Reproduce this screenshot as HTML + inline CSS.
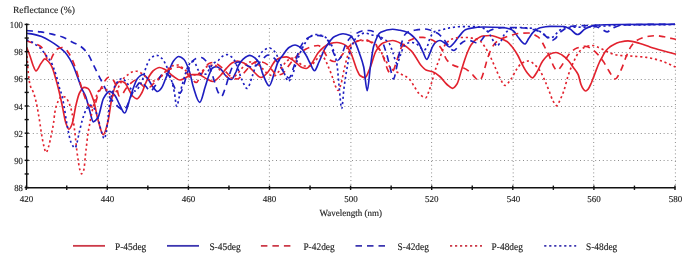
<!DOCTYPE html><html><head><meta charset="utf-8"><style>html,body{margin:0;padding:0;background:#fff;}svg{display:block;}</style></head><body><svg width="685" height="254" viewBox="0 0 685 254">
<rect width="685" height="254" fill="#fff"/>
<g stroke="#8c8c8c" stroke-width="1" stroke-dasharray="1 2.8" fill="none"><line x1="29" y1="24.5" x2="675.5" y2="24.5"/><line x1="29" y1="52.5" x2="675.5" y2="52.5"/><line x1="29" y1="79.5" x2="675.5" y2="79.5"/><line x1="29" y1="106.5" x2="675.5" y2="106.5"/><line x1="29" y1="133.5" x2="675.5" y2="133.5"/><line x1="29" y1="160.5" x2="675.5" y2="160.5"/><line x1="107.4" y1="28" x2="107.4" y2="186"/><line x1="188.4" y1="28" x2="188.4" y2="186"/><line x1="269.4" y1="28" x2="269.4" y2="186"/><line x1="350.9" y1="28" x2="350.9" y2="186"/><line x1="431.6" y1="28" x2="431.6" y2="186"/><line x1="513.2" y1="28" x2="513.2" y2="186"/><line x1="593.7" y1="28" x2="593.7" y2="186"/><line x1="675.4" y1="28" x2="675.4" y2="186"/></g>
<g fill="none" stroke-width="1.65" stroke-linejoin="round">
<path d="M26.7 47.4 C27.8 50.2 28.8 52.7 29.9 55.7 C30.9 58.6 32.0 62.8 33.0 65.2 C34.0 67.5 35.0 70.9 36.0 70.9 C37.6 70.9 39.3 65.8 40.9 63.6 C42.2 61.9 43.5 58.9 44.8 58.9 C46.1 58.9 47.5 60.6 48.8 62.0 C49.8 63.1 50.9 64.7 51.9 66.8 C53.2 69.4 54.4 74.2 55.7 78.5 C56.7 82.0 57.8 86.1 58.8 90.3 C59.8 94.5 60.9 99.3 61.9 104.0 C63.3 110.3 64.6 119.9 66.0 123.5 C67.0 126.2 68.0 129.2 69.0 129.2 C70.0 129.2 71.1 126.5 72.1 124.0 C73.4 120.8 74.7 110.2 76.0 105.0 C77.2 100.3 78.3 95.1 79.5 93.0 C81.1 90.2 82.6 87.4 84.2 87.4 C85.5 87.4 86.7 87.9 88.0 88.5 C90.0 89.5 91.9 95.6 93.9 101.6 C95.1 105.4 96.4 113.9 97.6 118.3 C99.5 125.1 101.4 134.6 103.3 134.6 C104.9 134.6 106.5 127.3 108.1 121.0 C109.2 116.5 110.4 105.3 111.5 100.0 C112.7 94.6 113.8 89.5 115.0 87.0 C116.0 84.9 117.0 83.1 118.0 82.5 C119.1 81.8 120.2 81.2 121.3 81.2 C122.5 81.2 123.8 82.1 125.0 83.0 C126.1 83.8 127.2 86.6 128.3 88.5 C129.7 90.9 131.1 94.7 132.5 96.0 C134.0 97.4 135.5 98.8 137.0 98.8 C138.7 98.8 140.3 95.4 142.0 92.5 C143.2 90.5 144.3 86.0 145.5 83.4 C146.7 80.8 147.8 78.4 149.0 76.5 C150.3 74.3 151.7 72.1 153.0 71.0 C155.1 69.3 157.3 67.5 159.4 67.5 C161.3 67.5 163.1 68.6 165.0 69.5 C167.5 70.7 170.0 74.0 172.5 75.7 C175.0 77.4 177.5 80.0 180.0 80.0 C182.0 80.0 184.0 78.4 186.0 77.5 C188.0 76.6 190.0 74.6 192.0 74.6 C194.1 74.6 196.3 74.6 198.4 74.6 C201.3 74.6 204.1 77.7 207.0 79.0 C209.0 79.9 211.0 81.5 213.0 81.5 C215.3 81.5 217.7 78.2 220.0 76.0 C222.2 73.9 224.4 70.4 226.6 68.1 C228.4 66.2 230.2 64.0 232.0 63.0 C233.8 62.0 235.6 61.0 237.4 61.0 C239.6 61.0 241.7 62.1 243.9 63.1 C246.1 64.1 248.2 66.1 250.4 68.1 C251.9 69.5 253.5 71.6 255.0 73.0 C257.0 74.8 259.0 77.5 261.0 77.5 C263.3 77.5 265.7 74.4 268.0 72.0 C270.5 69.4 273.0 62.5 275.5 60.5 C277.3 59.1 279.2 57.9 281.0 57.5 C282.8 57.1 284.7 56.8 286.5 56.8 C288.3 56.8 290.2 58.4 292.0 59.5 C293.7 60.5 295.3 62.4 297.0 63.7 C298.7 65.0 300.3 66.9 302.0 67.5 C303.4 68.0 304.8 68.5 306.2 68.5 C308.1 68.5 310.1 65.3 312.0 63.0 C314.0 60.6 316.0 55.6 318.0 53.1 C320.0 50.6 322.0 48.5 324.0 47.0 C325.9 45.6 327.9 44.1 329.8 43.6 C332.2 43.0 334.5 42.5 336.9 42.5 C338.6 42.5 340.3 43.0 342.0 43.5 C343.5 43.9 344.9 44.8 346.4 46.0 C347.6 47.0 348.8 48.8 350.0 51.0 C351.2 53.1 352.3 56.8 353.5 60.0 C354.7 63.2 355.8 67.4 357.0 70.0 C358.0 72.2 359.0 74.8 360.0 75.5 C361.7 76.7 363.3 77.6 365.0 77.6 C366.7 77.6 368.3 71.8 370.0 68.0 C372.0 63.5 374.0 54.4 376.0 51.1 C378.3 47.2 380.7 44.0 383.0 43.0 C386.2 41.6 389.4 40.5 392.6 40.5 C395.7 40.5 398.9 42.4 402.0 44.0 C405.2 45.6 408.3 47.9 411.5 51.1 C413.0 52.6 414.5 55.2 416.0 57.5 C417.6 60.0 419.3 63.4 420.9 65.3 C422.6 67.3 424.3 69.3 426.0 70.0 C428.2 71.0 430.5 70.9 432.7 71.8 C435.1 72.7 437.4 74.5 439.8 76.5 C442.2 78.5 444.6 82.5 447.0 84.5 C448.8 86.0 450.7 88.3 452.5 88.3 C454.0 88.3 455.5 86.2 457.0 84.0 C458.5 81.8 460.0 74.7 461.5 70.0 C462.7 66.4 463.8 62.4 465.0 59.0 C466.0 56.1 467.0 53.3 468.0 51.0 C469.0 48.7 470.0 46.5 471.0 45.0 C472.7 42.6 474.3 40.7 476.0 39.5 C478.3 37.9 480.7 36.3 483.0 36.0 C485.3 35.7 487.7 35.5 490.0 35.5 C492.7 35.5 495.3 36.7 498.0 37.5 C501.0 38.5 504.0 39.6 507.0 41.5 C509.0 42.8 511.0 45.4 513.0 48.0 C514.5 50.0 516.1 52.3 517.6 55.0 C519.1 57.6 520.5 61.3 522.0 64.0 C523.7 67.1 525.3 70.4 527.0 72.5 C528.8 74.7 530.6 77.8 532.4 77.8 C533.9 77.8 535.5 74.3 537.0 72.0 C538.9 69.1 540.8 63.6 542.7 61.0 C544.8 58.2 546.9 55.4 549.0 54.5 C551.3 53.4 553.7 52.5 556.0 52.5 C558.0 52.5 560.0 53.9 562.0 55.0 C564.2 56.3 566.5 58.5 568.7 61.0 C570.1 62.6 571.6 64.9 573.0 67.0 C574.7 69.5 576.5 70.9 578.2 74.7 C579.1 76.7 580.1 82.2 581.0 84.5 C581.8 86.6 582.7 88.4 583.5 89.3 C584.3 90.1 585.0 91.0 585.8 91.0 C586.5 91.0 587.3 90.1 588.0 89.3 C589.2 88.1 590.3 85.1 591.5 82.5 C592.8 79.5 594.2 75.4 595.5 72.0 C596.8 68.6 598.2 64.8 599.5 62.0 C600.3 60.3 601.2 59.0 602.0 57.5 C603.0 55.7 604.0 53.4 605.0 52.0 C606.0 50.6 607.0 49.4 608.0 48.5 C609.7 47.0 611.3 45.9 613.0 45.0 C615.3 43.7 617.7 42.5 620.0 42.0 C622.7 41.4 625.3 40.8 628.0 40.8 C632.0 40.8 636.0 42.4 640.0 43.5 C643.3 44.4 646.7 45.9 650.0 47.0 C654.0 48.3 658.0 49.4 662.0 50.5 C666.7 51.8 671.3 53.0 676.0 54.2" stroke="#e2222e"/>
<path d="M26.4 33.3 C28.5 33.6 30.7 33.7 32.8 34.1 C35.7 34.6 38.6 35.5 41.5 36.6 C44.4 37.7 47.4 39.4 50.3 41.1 C52.8 42.6 55.3 44.2 57.8 46.1 C60.2 47.9 62.6 49.7 65.0 52.3 C66.7 54.1 68.3 56.6 70.0 59.4 C71.0 61.1 72.1 63.2 73.1 65.5 C74.7 69.1 76.3 73.7 77.9 78.0 C79.1 81.2 80.3 85.2 81.5 88.0 C82.9 91.3 84.3 92.9 85.7 96.5 C87.0 99.8 88.2 105.8 89.5 110.0 C90.8 114.2 92.0 121.8 93.3 121.8 C94.9 121.8 96.4 119.7 98.0 117.5 C99.8 114.9 101.7 101.5 103.5 98.3 C105.5 94.8 107.5 91.3 109.5 91.3 C111.3 91.3 113.2 93.5 115.0 95.6 C116.5 97.3 118.0 101.8 119.5 104.5 C121.2 107.6 123.0 113.0 124.7 113.0 C126.4 113.0 128.2 103.6 129.9 98.5 C130.9 95.5 132.0 91.8 133.0 89.0 C134.5 85.0 136.0 80.2 137.5 78.5 C139.3 76.4 141.2 74.5 143.0 74.5 C144.7 74.5 146.3 77.1 148.0 79.0 C149.7 80.9 151.3 85.0 153.0 87.0 C154.5 88.8 156.0 91.5 157.5 91.5 C158.8 91.5 160.2 89.7 161.5 88.0 C162.8 86.3 164.2 82.1 165.5 79.0 C166.8 75.9 168.2 72.5 169.5 69.5 C170.8 66.5 172.2 62.7 173.5 61.0 C175.2 58.8 177.0 56.5 178.7 56.5 C180.5 56.5 182.2 57.9 184.0 59.5 C185.9 61.2 187.7 66.5 189.6 72.0 C190.8 75.5 192.0 82.9 193.2 86.6 C195.4 93.3 197.5 102.3 199.7 102.3 C201.6 102.3 203.4 92.1 205.3 86.6 C206.5 82.9 207.8 78.0 209.0 75.0 C210.2 72.2 211.3 68.7 212.5 68.0 C213.8 67.2 215.0 66.6 216.3 66.6 C217.9 66.6 219.6 68.3 221.2 69.7 C222.8 71.1 224.4 74.6 226.0 76.0 C227.7 77.5 229.5 79.5 231.2 79.5 C232.8 79.5 234.4 75.2 236.0 72.0 C236.8 70.3 237.7 67.1 238.5 65.5 C240.0 62.7 241.4 60.5 242.9 59.3 C245.2 57.4 247.5 55.3 249.8 55.3 C251.5 55.3 253.3 56.7 255.0 58.0 C256.5 59.1 258.0 61.1 259.5 63.9 C260.7 66.1 261.8 71.9 263.0 74.6 C265.1 79.4 267.1 85.8 269.2 85.8 C271.0 85.8 272.9 76.7 274.7 71.7 C275.8 68.7 276.9 64.1 278.0 62.0 C279.5 59.0 281.1 57.5 282.6 55.5 C284.7 52.7 286.9 48.8 289.0 47.5 C291.0 46.3 293.0 45.0 295.0 45.0 C297.0 45.0 299.0 46.5 301.0 48.0 C302.7 49.3 304.5 52.6 306.2 55.5 C307.5 57.6 308.7 60.7 310.0 63.0 C311.5 65.8 313.0 70.7 314.5 70.7 C316.0 70.7 317.5 65.1 319.0 62.0 C321.0 57.8 323.1 51.7 325.1 48.4 C328.3 43.2 331.4 38.1 334.6 36.5 C337.4 35.0 340.2 33.7 343.0 33.7 C345.3 33.7 347.7 34.5 350.0 35.5 C351.7 36.2 353.3 39.1 355.0 42.0 C356.5 44.6 358.0 49.2 359.5 53.5 C360.9 57.5 362.3 60.8 363.7 67.0 C364.9 72.1 366.0 90.7 367.2 90.7 C368.3 90.7 369.4 73.5 370.5 66.0 C371.5 58.9 372.6 49.8 373.6 46.4 C376.0 38.7 378.3 33.3 380.7 32.2 C384.7 30.4 388.6 29.3 392.6 29.3 C395.1 29.3 397.5 29.9 400.0 30.3 C402.6 30.8 405.2 31.4 407.8 32.5 C409.2 33.1 410.6 34.3 412.0 35.5 C413.3 36.6 414.7 38.0 416.0 39.5 C417.0 40.7 418.0 41.9 419.0 43.5 C420.3 45.7 421.7 49.3 423.0 52.0 C424.3 54.6 425.5 59.4 426.8 59.4 C427.9 59.4 428.9 55.4 430.0 53.0 C430.9 51.0 431.8 48.0 432.7 46.4 C433.8 44.5 434.9 42.7 436.0 42.0 C437.3 41.2 438.5 40.5 439.8 40.5 C441.2 40.5 442.6 41.7 444.0 42.5 C445.8 43.6 447.7 47.0 449.5 47.0 C451.0 47.0 452.5 44.6 454.0 43.0 C455.6 41.3 457.1 38.7 458.7 36.9 C460.9 34.3 463.2 30.8 465.4 29.8 C466.9 29.1 468.5 28.7 470.0 28.4 C474.5 27.6 479.1 27.0 483.6 27.0 C489.9 27.0 496.3 27.2 502.6 27.5 C505.1 27.6 507.5 28.2 510.0 29.0 C511.3 29.4 512.7 30.4 514.0 31.5 C515.3 32.6 516.7 35.4 518.0 37.0 C520.3 39.7 522.5 44.0 524.8 44.0 C526.2 44.0 527.6 39.9 529.0 38.0 C530.4 36.0 531.9 33.5 533.3 32.2 C535.6 30.2 537.9 28.4 540.2 27.8 C543.4 27.0 546.6 26.3 549.8 26.3 C554.5 26.3 559.3 26.4 564.0 26.5 C566.0 26.6 568.0 28.0 570.0 29.0 C572.5 30.3 575.1 34.5 577.6 34.5 C580.1 34.5 582.5 30.3 585.0 29.0 C588.5 27.2 591.9 25.3 595.4 25.1 C603.6 24.7 611.8 24.6 620.0 24.5 C638.3 24.4 656.7 24.4 675.0 24.3" stroke="#1e1ec0"/>
<path d="M26.4 40.5 C27.8 41.1 29.1 41.7 30.5 42.2 C32.3 42.9 34.0 43.3 35.8 44.0 C37.2 44.6 38.6 45.1 40.0 46.0 C40.9 46.6 41.7 47.3 42.6 48.5 C43.6 49.8 44.5 53.0 45.5 55.0 C46.5 57.0 47.5 60.5 48.5 60.5 C49.2 60.5 49.8 60.3 50.5 60.0 C51.2 59.7 51.8 57.3 52.5 56.0 C53.6 54.0 54.6 51.3 55.7 50.3 C56.8 49.3 57.9 48.7 59.0 48.3 C60.0 47.9 61.0 47.5 62.0 47.5 C63.0 47.5 64.0 48.0 65.0 48.5 C66.0 49.0 67.0 50.6 68.0 52.0 C69.2 53.6 70.3 55.6 71.5 58.0 C72.8 60.7 74.2 64.3 75.5 68.0 C76.7 71.3 77.8 75.3 79.0 79.0 C80.3 83.3 81.7 88.1 83.0 92.0 C84.0 94.9 85.0 97.8 86.0 100.0 C87.0 102.2 88.0 104.7 89.0 105.5 C90.0 106.3 91.0 107.0 92.0 107.0 C93.0 107.0 94.0 105.5 95.0 104.0 C96.1 102.3 97.2 96.3 98.3 93.7 C99.5 90.7 100.8 88.8 102.0 86.5 C103.2 84.3 104.3 81.4 105.5 80.0 C106.5 78.8 107.5 77.2 108.5 77.2 C109.5 77.2 110.5 77.6 111.5 78.0 C112.5 78.4 113.5 80.2 114.5 82.0 C115.3 83.5 116.2 86.4 117.0 89.0 C117.7 91.1 118.3 96.0 119.0 96.0 C120.0 96.0 121.0 95.6 122.0 95.0 C123.0 94.4 124.0 91.4 125.0 90.0 C126.7 87.6 128.3 85.4 130.0 84.0 C132.0 82.3 134.0 80.0 136.0 80.0 C137.3 80.0 138.7 82.0 140.0 83.0 C141.7 84.3 143.3 87.0 145.0 87.0 C146.7 87.0 148.3 87.0 150.0 87.0 C151.0 87.0 152.0 85.0 153.0 84.0 C155.3 81.7 157.7 79.2 160.0 77.0 C162.7 74.5 165.3 71.4 168.0 70.0 C170.0 69.0 172.0 68.2 174.0 67.8 C175.7 67.4 177.3 67.0 179.0 67.0 C180.7 67.0 182.3 68.7 184.0 70.0 C185.9 71.5 187.9 74.9 189.8 76.8 C192.0 79.0 194.1 82.5 196.3 82.5 C197.7 82.5 199.1 78.3 200.5 76.0 C202.0 73.5 203.5 70.2 205.0 68.1 C206.3 66.3 207.7 64.0 209.0 63.5 C210.3 63.0 211.7 62.5 213.0 62.5 C214.3 62.5 215.7 63.3 217.0 64.0 C218.7 64.9 220.5 66.6 222.2 68.1 C223.8 69.5 225.4 71.4 227.0 73.0 C228.3 74.3 229.7 76.1 231.0 76.8 C233.1 77.9 235.3 79.0 237.4 79.0 C239.3 79.0 241.1 75.9 243.0 74.0 C244.7 72.3 246.5 70.0 248.2 68.1 C249.5 66.7 250.7 64.9 252.0 64.0 C253.6 62.9 255.3 61.6 256.9 61.6 C258.6 61.6 260.3 61.8 262.0 62.0 C264.0 62.3 266.0 63.5 268.0 65.0 C269.3 66.0 270.7 68.5 272.0 70.0 C273.7 71.9 275.3 75.0 277.0 75.0 C278.7 75.0 280.3 74.6 282.0 74.0 C284.2 73.3 286.3 68.7 288.5 66.0 C290.3 63.7 292.2 61.1 294.0 59.0 C296.0 56.8 298.0 54.6 300.0 53.0 C302.0 51.4 304.0 50.0 306.0 49.0 C308.0 48.0 310.0 47.0 312.0 46.5 C314.0 46.0 316.0 45.5 318.0 45.5 C319.3 45.5 320.7 46.8 322.0 48.0 C323.3 49.2 324.7 53.1 326.0 55.0 C327.3 56.9 328.7 59.2 330.0 60.0 C331.3 60.8 332.7 61.5 334.0 61.5 C335.3 61.5 336.7 61.1 338.0 60.5 C339.3 59.9 340.7 56.8 342.0 55.0 C343.7 52.8 345.3 50.3 347.0 48.5 C348.7 46.7 350.3 45.1 352.0 44.0 C354.0 42.7 356.0 41.7 358.0 41.0 C360.1 40.3 362.1 39.3 364.2 39.3 C366.8 39.3 369.4 41.4 372.0 43.0 C374.9 44.8 377.8 46.9 380.7 51.1 C382.1 53.2 383.6 58.1 385.0 62.0 C385.9 64.5 386.9 68.3 387.8 70.0 C388.5 71.3 389.3 73.0 390.0 73.0 C391.0 73.0 392.0 72.0 393.0 71.0 C394.3 69.6 395.7 63.6 397.0 60.0 C398.7 55.4 400.3 48.4 402.0 46.4 C405.2 42.5 408.3 40.8 411.5 39.5 C413.7 38.6 415.8 37.6 418.0 37.5 C419.7 37.4 421.3 37.3 423.0 37.3 C424.7 37.3 426.3 38.0 428.0 38.5 C430.4 39.2 432.7 40.1 435.1 41.6 C437.1 42.8 439.0 45.2 441.0 48.0 C443.0 50.8 444.9 57.6 446.9 60.0 C448.6 62.1 450.3 63.5 452.0 64.5 C453.7 65.4 455.3 66.1 457.0 66.6 C459.2 67.2 461.4 67.3 463.6 68.0 C466.2 68.8 468.8 71.2 471.4 73.5 C472.8 74.7 474.1 76.7 475.5 78.0 C476.5 78.9 477.5 80.5 478.5 80.5 C479.5 80.5 480.5 79.3 481.5 78.0 C482.5 76.7 483.5 72.2 484.5 69.0 C485.7 65.3 486.8 60.2 488.0 57.0 C489.7 52.5 491.3 48.3 493.0 46.0 C495.0 43.2 497.0 41.2 499.0 40.0 C501.3 38.6 503.7 37.9 506.0 37.0 C508.0 36.3 510.0 35.6 512.0 35.0 C514.0 34.4 516.0 33.7 518.0 33.5 C521.5 33.2 524.9 33.0 528.4 33.0 C531.6 33.0 534.8 34.8 538.0 36.9 C540.7 38.7 543.4 44.6 546.1 49.5 C547.7 52.5 549.4 56.3 551.0 60.0 C552.0 62.2 553.0 65.4 554.0 67.0 C555.0 68.6 556.0 70.5 557.0 70.5 C558.0 70.5 559.0 69.1 560.0 68.0 C561.3 66.6 562.7 64.0 564.0 62.0 C565.9 59.1 567.9 55.3 569.8 53.4 C572.2 51.0 574.6 48.8 577.0 48.0 C579.8 47.1 582.7 46.3 585.5 46.3 C588.0 46.3 590.5 48.3 593.0 50.0 C596.4 52.3 599.8 56.7 603.2 61.3 C605.1 63.9 607.1 68.1 609.0 71.0 C611.0 74.0 613.0 79.0 615.0 79.0 C617.0 79.0 619.0 73.8 621.0 70.0 C622.7 66.8 624.3 60.9 626.0 57.0 C627.7 53.1 629.3 48.9 631.0 46.5 C632.7 44.1 634.3 42.2 636.0 41.0 C638.0 39.6 640.0 38.7 642.0 38.0 C644.3 37.2 646.7 36.5 649.0 36.2 C651.3 35.9 653.7 35.7 656.0 35.7 C658.7 35.7 661.3 36.4 664.0 36.8 C668.0 37.5 672.0 38.6 676.0 39.5" stroke="#e2222e" stroke-dasharray="6.5 5"/>
<path d="M26.4 30.5 C31.1 31.0 35.9 31.3 40.6 31.9 C44.4 32.4 48.2 33.2 52.0 34.1 C55.5 34.9 59.0 35.8 62.5 37.1 C66.0 38.4 69.5 40.6 73.0 42.4 C75.4 43.6 77.9 44.5 80.3 46.1 C82.8 47.8 85.4 50.4 87.9 53.9 C89.9 56.6 91.8 61.8 93.8 65.7 C95.8 69.6 97.7 73.7 99.7 77.6 C101.4 80.9 103.0 84.1 104.7 87.4 C106.3 90.6 108.0 94.8 109.6 97.2 C111.4 99.9 113.2 101.6 115.0 103.5 C116.3 104.9 117.7 106.5 119.0 107.5 C120.3 108.5 121.7 110.0 123.0 110.0 C124.3 110.0 125.7 107.9 127.0 106.0 C128.3 104.1 129.7 98.8 131.0 96.0 C132.7 92.5 134.3 89.1 136.0 87.0 C137.7 84.9 139.3 82.0 141.0 82.0 C142.5 82.0 144.0 84.6 145.5 86.0 C147.2 87.6 148.8 91.0 150.5 91.0 C152.0 91.0 153.5 88.1 155.0 86.0 C156.5 83.9 158.0 80.1 159.5 78.0 C161.0 75.9 162.5 73.0 164.0 73.0 C165.3 73.0 166.7 73.7 168.0 74.5 C169.3 75.3 170.7 79.4 172.0 82.0 C173.3 84.6 174.7 88.5 176.0 90.0 C177.3 91.5 178.7 93.0 180.0 93.0 C181.3 93.0 182.7 87.5 184.0 84.0 C185.3 80.5 186.7 74.7 188.0 71.0 C189.2 67.8 190.3 64.0 191.5 62.5 C193.0 60.5 194.5 59.0 196.0 58.5 C197.8 57.9 199.5 57.5 201.3 57.5 C202.9 57.5 204.4 59.3 206.0 61.0 C207.2 62.2 208.3 64.5 209.5 67.0 C211.0 70.2 212.5 75.6 214.0 80.0 C215.3 83.9 216.7 89.7 218.0 92.0 C219.2 94.0 220.3 96.3 221.5 96.3 C222.7 96.3 223.8 91.9 225.0 89.0 C226.5 85.3 227.9 78.6 229.4 74.6 C230.6 71.3 231.8 67.5 233.0 66.0 C234.7 63.9 236.3 62.0 238.0 62.0 C239.7 62.0 241.3 62.5 243.0 63.0 C244.7 63.5 246.3 65.3 248.0 66.0 C249.7 66.7 251.3 67.5 253.0 67.5 C254.7 67.5 256.3 65.4 258.0 64.0 C259.3 62.9 260.7 61.2 262.0 60.0 C264.0 58.2 266.0 55.0 268.0 55.0 C270.0 55.0 272.0 56.5 274.0 58.0 C276.0 59.5 278.0 63.1 280.0 66.0 C281.7 68.4 283.3 72.0 285.0 74.0 C286.3 75.6 287.7 78.0 289.0 78.0 C290.8 78.0 292.6 69.8 294.4 65.0 C296.3 60.0 298.1 51.7 300.0 48.0 C302.1 43.9 304.1 40.2 306.2 38.9 C309.4 37.0 312.5 35.4 315.7 35.4 C317.8 35.4 319.9 35.6 322.0 36.0 C323.8 36.3 325.7 38.0 327.5 40.0 C328.7 41.3 329.8 44.5 331.0 47.0 C332.2 49.5 333.3 52.6 334.5 55.0 C335.5 57.0 336.5 60.5 337.5 60.5 C338.7 60.5 339.8 58.7 341.0 57.0 C342.3 55.1 343.7 48.7 345.0 46.0 C346.7 42.6 348.3 39.7 350.0 38.0 C351.6 36.4 353.1 35.4 354.7 34.5 C357.1 33.1 359.6 31.3 362.0 31.0 C364.3 30.7 366.7 30.5 369.0 30.5 C371.3 30.5 373.7 31.7 376.0 33.0 C377.7 33.9 379.3 36.3 381.0 39.0 C382.7 41.7 384.3 46.8 386.0 52.0 C387.3 56.1 388.7 62.2 390.0 67.0 C391.2 71.2 392.3 79.0 393.5 79.0 C394.5 79.0 395.5 72.3 396.5 68.0 C397.3 64.4 398.2 59.0 399.0 55.0 C400.0 50.3 400.9 45.0 401.9 42.0 C403.1 38.4 404.2 35.2 405.4 34.0 C406.9 32.4 408.5 31.4 410.0 31.0 C412.0 30.5 414.0 30.3 416.0 30.0 C418.7 29.6 421.3 29.0 424.0 29.0 C426.0 29.0 428.0 29.5 430.0 30.0 C431.3 30.3 432.7 30.9 434.0 31.5 C435.3 32.1 436.7 32.6 438.0 33.5 C439.7 34.6 441.3 36.6 443.0 38.5 C444.7 40.4 446.3 42.8 448.0 45.0 C449.2 46.5 450.3 48.8 451.5 49.5 C452.3 50.0 453.2 50.5 454.0 50.5 C455.0 50.5 456.0 49.0 457.0 48.0 C458.3 46.7 459.7 44.6 461.0 43.5 C462.3 42.4 463.7 41.3 465.0 41.0 C466.3 40.7 467.7 40.5 469.0 40.5 C470.3 40.5 471.7 41.1 473.0 41.5 C474.0 41.8 475.0 42.6 476.0 42.8 C476.8 43.0 477.7 43.2 478.5 43.2 C479.7 43.2 480.8 40.9 482.0 39.5 C483.3 37.9 484.7 35.4 486.0 34.0 C487.3 32.6 488.7 31.2 490.0 30.5 C492.0 29.5 494.0 28.8 496.0 28.5 C499.0 28.0 502.0 27.5 505.0 27.5 C508.3 27.5 511.7 27.5 515.0 27.5 C518.3 27.5 521.7 27.7 525.0 28.0 C527.7 28.2 530.3 28.9 533.0 29.5 C534.7 29.9 536.3 30.3 538.0 31.0 C539.7 31.7 541.3 32.9 543.0 34.0 C544.7 35.1 546.3 36.8 548.0 38.0 C549.3 38.9 550.7 40.5 552.0 40.5 C553.2 40.5 554.3 39.5 555.5 38.5 C556.7 37.5 557.8 34.7 559.0 33.5 C560.7 31.8 562.3 30.5 564.0 29.5 C566.0 28.3 568.0 26.7 570.0 26.5 C576.7 25.8 583.3 25.5 590.0 25.5 C593.3 25.5 596.7 26.8 600.0 28.0 C602.3 28.8 604.7 31.8 607.0 31.8 C609.0 31.8 611.0 28.9 613.0 28.0 C616.0 26.7 619.0 25.2 622.0 25.0 C628.0 24.7 634.0 24.6 640.0 24.5 C651.7 24.4 663.3 24.4 675.0 24.3" stroke="#1e1ec0" stroke-dasharray="6.5 5"/>
<path d="M26.5 51.0 C26.8 54.0 27.0 56.8 27.3 60.0 C27.6 64.0 28.0 69.9 28.3 73.0 C28.9 78.5 29.5 83.1 30.1 85.2 C31.1 88.8 32.2 89.3 33.2 92.0 C34.1 94.3 34.9 97.0 35.8 100.5 C36.6 103.8 37.5 108.6 38.3 113.3 C38.8 116.3 39.4 119.6 39.9 123.0 C40.4 126.2 40.9 130.3 41.4 133.3 C42.3 138.4 43.1 143.4 44.0 146.6 C44.7 149.1 45.3 152.6 46.0 152.6 C46.9 152.6 47.7 149.2 48.6 146.6 C49.6 143.6 50.6 138.2 51.6 133.3 C52.3 129.9 53.0 126.8 53.7 122.0 C54.0 119.7 54.4 115.1 54.7 113.3 C55.7 107.6 56.8 104.2 57.8 102.0 C59.0 99.4 60.3 96.5 61.5 96.5 C62.7 96.5 63.8 96.7 65.0 97.0 C66.3 97.3 67.7 100.2 69.0 103.0 C70.0 105.2 71.1 108.6 72.1 113.3 C72.8 116.5 73.5 121.9 74.2 127.1 C74.6 130.3 75.1 134.1 75.5 138.0 C75.9 141.9 76.4 147.0 76.8 150.5 C77.3 154.3 77.7 157.4 78.2 160.4 C78.7 163.8 79.3 167.9 79.8 169.6 C80.4 171.6 81.1 173.8 81.7 173.8 C82.4 173.8 83.2 172.0 83.9 169.6 C84.4 167.9 84.9 159.7 85.4 155.2 C85.8 151.6 86.2 148.5 86.6 145.0 C87.0 141.8 87.3 137.9 87.7 135.3 C88.3 131.1 88.9 128.3 89.5 125.0 C90.3 120.4 91.2 115.7 92.0 112.0 C93.3 106.1 94.7 100.5 96.0 97.0 C97.3 93.5 98.7 89.6 100.0 89.0 C101.3 88.4 102.7 88.0 104.0 88.0 C105.3 88.0 106.7 90.7 108.0 92.0 C109.3 93.3 110.7 96.0 112.0 96.0 C113.3 96.0 114.7 93.8 116.0 92.0 C117.3 90.2 118.7 86.3 120.0 84.0 C121.3 81.7 122.7 79.4 124.0 78.0 C125.5 76.4 127.1 75.3 128.6 74.2 C129.7 73.4 130.9 72.3 132.0 72.0 C133.6 71.6 135.1 71.2 136.7 71.2 C138.1 71.2 139.6 72.2 141.0 73.0 C142.3 73.7 143.5 75.0 144.8 76.0 C146.5 77.4 148.3 79.5 150.0 80.0 C151.7 80.5 153.3 81.0 155.0 81.0 C156.7 81.0 158.3 79.3 160.0 78.0 C162.0 76.4 164.0 72.9 166.0 71.0 C168.0 69.1 170.0 66.6 172.0 66.0 C174.0 65.4 176.0 65.0 178.0 65.0 C180.0 65.0 182.0 67.5 184.0 69.0 C186.0 70.5 188.0 73.4 190.0 74.0 C192.0 74.6 194.0 75.0 196.0 75.0 C198.0 75.0 200.0 72.5 202.0 71.0 C204.0 69.5 206.0 66.6 208.0 66.0 C210.0 65.4 212.0 65.0 214.0 65.0 C216.0 65.0 218.0 68.2 220.0 70.0 C222.0 71.8 224.0 75.0 226.0 76.0 C228.0 77.0 230.0 78.0 232.0 78.0 C234.0 78.0 236.0 74.9 238.0 73.0 C240.0 71.1 242.0 67.7 244.0 66.0 C246.0 64.3 248.0 62.0 250.0 62.0 C252.0 62.0 254.0 62.4 256.0 63.0 C258.0 63.6 260.0 66.2 262.0 68.0 C264.0 69.8 266.0 73.0 268.0 74.0 C270.0 75.0 272.0 76.0 274.0 76.0 C276.0 76.0 278.0 72.3 280.0 70.0 C282.0 67.7 284.0 63.8 286.0 62.0 C288.0 60.2 290.0 58.0 292.0 58.0 C294.0 58.0 296.0 60.7 298.0 62.0 C300.0 63.3 302.0 66.0 304.0 66.0 C306.0 66.0 308.0 66.0 310.0 66.0 C312.0 66.0 314.0 62.0 316.0 60.0 C317.3 58.7 318.7 56.0 320.0 56.0 C321.3 56.0 322.7 56.9 324.0 58.0 C325.3 59.1 326.7 63.0 328.0 66.0 C329.3 69.0 330.7 72.3 332.0 76.0 C333.0 78.7 334.0 82.7 335.0 85.0 C336.0 87.3 337.0 90.5 338.0 90.5 C339.0 90.5 340.0 87.0 341.0 84.0 C342.0 81.0 343.0 74.3 344.0 70.0 C345.0 65.7 346.0 61.3 347.0 58.0 C348.3 53.6 349.7 49.3 351.0 47.0 C352.7 44.2 354.3 41.2 356.0 41.0 C358.7 40.7 361.3 40.5 364.0 40.5 C367.2 40.5 370.4 41.5 373.6 42.8 C375.7 43.7 377.9 46.9 380.0 50.0 C381.8 52.6 383.7 57.8 385.5 60.6 C387.9 64.2 390.2 67.7 392.6 69.5 C395.1 71.4 397.5 72.1 400.0 73.5 C403.0 75.2 406.1 76.2 409.1 78.9 C410.7 80.3 412.4 83.6 414.0 86.0 C415.5 88.3 417.1 91.6 418.6 93.1 C421.0 95.4 423.3 97.8 425.7 97.8 C426.8 97.8 427.9 93.8 429.0 91.0 C430.2 87.9 431.5 83.1 432.7 79.0 C433.8 75.4 434.9 71.2 436.0 68.0 C437.3 64.3 438.5 61.3 439.8 58.0 C441.5 53.5 443.3 47.3 445.0 45.0 C447.3 41.9 449.7 39.7 452.0 39.0 C454.7 38.2 457.3 37.5 460.0 37.5 C462.3 37.5 464.7 37.5 467.0 37.5 C469.3 37.5 471.7 38.0 474.0 38.5 C476.0 38.9 478.0 39.7 480.0 41.0 C481.7 42.0 483.3 44.6 485.0 47.0 C486.7 49.4 488.3 52.7 490.0 56.0 C491.7 59.3 493.3 63.3 495.0 67.0 C496.7 70.7 498.3 75.0 500.0 78.0 C501.7 81.0 503.3 85.5 505.0 85.5 C507.0 85.5 509.0 81.7 511.0 79.0 C512.9 76.5 514.8 71.8 516.7 69.2 C518.5 66.7 520.2 63.9 522.0 63.0 C524.2 61.9 526.4 61.0 528.6 61.0 C530.7 61.0 532.9 63.2 535.0 65.0 C536.8 66.5 538.6 68.7 540.4 71.5 C541.9 73.8 543.5 77.6 545.0 81.0 C546.6 84.6 548.2 88.8 549.8 92.8 C550.9 95.5 551.9 99.2 553.0 101.0 C554.3 103.2 555.6 105.8 556.9 105.8 C557.9 105.8 559.0 102.2 560.0 100.0 C561.3 97.2 562.7 94.3 564.0 90.5 C565.3 86.7 566.7 80.0 568.0 76.0 C569.8 70.5 571.7 65.9 573.5 62.0 C575.3 58.1 577.2 54.1 579.0 52.0 C581.0 49.7 583.0 47.7 585.0 47.0 C587.3 46.2 589.7 45.5 592.0 45.5 C594.7 45.5 597.3 47.0 600.0 48.0 C603.3 49.3 606.7 51.8 610.0 53.0 C613.0 54.0 616.0 55.1 619.0 55.4 C622.7 55.7 626.3 55.8 630.0 56.0 C635.5 56.4 641.0 56.7 646.5 57.4 C651.0 58.0 655.5 59.2 660.0 60.5 C665.3 62.1 670.7 65.0 676.0 67.2" stroke="#e2222e" stroke-dasharray="2.2 2.8"/>
<path d="M26.5 39.8 C27.7 40.4 28.9 41.0 30.1 41.5 C31.0 41.8 31.9 42.0 32.8 42.4 C34.0 42.9 35.1 44.2 36.3 45.1 C37.3 45.8 38.3 46.3 39.3 47.2 C40.7 48.4 42.0 50.2 43.4 51.8 C44.6 53.2 45.8 54.9 47.0 56.4 C48.2 57.9 49.4 59.1 50.6 61.1 C51.6 62.8 52.7 65.6 53.7 68.3 C54.7 71.0 55.8 74.0 56.8 77.5 C57.7 80.5 58.6 84.9 59.5 88.0 C60.3 90.7 61.1 92.3 61.9 95.4 C62.6 98.1 63.3 102.1 64.0 106.0 C65.0 111.5 66.0 119.4 67.0 124.6 C68.4 131.7 69.7 139.6 71.1 142.5 C72.4 145.3 73.7 148.0 75.0 148.0 C76.4 148.0 77.9 137.8 79.3 132.2 C80.3 128.3 81.3 123.3 82.3 120.0 C83.5 116.0 84.8 112.1 86.0 110.0 C87.3 107.7 88.7 105.0 90.0 105.0 C91.3 105.0 92.7 106.5 94.0 108.0 C95.3 109.5 96.7 113.9 98.0 118.0 C99.2 121.6 100.3 128.5 101.5 132.0 C102.4 134.8 103.4 138.7 104.3 138.7 C105.4 138.7 106.5 129.7 107.6 122.5 C108.3 117.9 109.0 106.9 109.7 103.0 C110.4 98.9 111.2 96.6 111.9 94.3 C113.3 90.0 114.6 85.9 116.0 84.0 C118.0 81.2 120.0 78.5 122.0 78.5 C123.7 78.5 125.3 81.1 127.0 83.0 C128.3 84.5 129.7 88.0 131.0 89.0 C132.3 90.0 133.7 91.0 135.0 91.0 C136.3 91.0 137.7 88.8 139.0 87.0 C140.1 85.6 141.1 83.2 142.2 80.5 C143.6 77.0 145.0 69.7 146.4 66.2 C147.6 63.2 148.8 60.1 150.0 59.0 C152.3 56.9 154.5 55.3 156.8 55.3 C158.5 55.3 160.3 56.9 162.0 58.5 C163.2 59.6 164.3 61.8 165.5 64.0 C166.7 66.4 168.0 69.5 169.2 73.0 C170.3 76.1 171.4 79.7 172.5 84.0 C173.2 86.6 173.8 89.5 174.5 93.0 C175.2 96.7 175.9 106.3 176.6 106.3 C177.6 106.3 178.5 99.7 179.5 96.0 C180.5 92.2 181.5 87.1 182.5 83.6 C184.5 76.6 186.4 69.5 188.4 65.9 C189.6 63.7 190.8 61.0 192.0 61.0 C193.2 61.0 194.3 62.5 195.5 64.0 C196.3 65.1 197.2 68.4 198.0 69.7 C199.3 71.8 200.7 74.5 202.0 74.5 C203.3 74.5 204.7 74.3 206.0 74.0 C207.3 73.7 208.7 69.8 210.0 68.0 C211.3 66.2 212.7 64.1 214.0 63.0 C215.5 61.8 216.9 61.4 218.4 60.3 C219.6 59.3 220.9 57.2 222.1 56.5 C223.7 55.6 225.3 54.6 226.9 54.6 C228.5 54.6 230.0 55.8 231.6 57.0 C232.5 57.7 233.5 58.9 234.4 60.3 C235.4 61.8 236.3 64.5 237.3 66.9 C238.9 70.8 240.4 76.7 242.0 80.0 C243.7 83.5 245.3 88.3 247.0 88.3 C248.9 88.3 250.9 79.9 252.8 74.6 C254.2 70.7 255.6 64.3 257.0 61.0 C258.7 57.1 260.3 53.5 262.0 52.0 C264.4 49.9 266.8 48.0 269.2 48.0 C271.1 48.0 273.1 49.9 275.0 52.0 C276.1 53.1 277.1 55.9 278.2 58.2 C279.8 61.6 281.4 66.4 283.0 70.0 C284.8 74.1 286.7 81.3 288.5 81.3 C289.7 81.3 290.8 78.3 292.0 76.0 C293.4 73.2 294.8 67.1 296.2 63.3 C298.7 56.5 301.3 49.9 303.8 45.4 C305.5 42.3 307.3 39.1 309.0 37.7 C311.0 36.1 313.0 34.5 315.0 34.5 C317.3 34.5 319.7 34.9 322.0 35.5 C324.7 36.1 327.3 38.5 330.0 42.0 C331.3 43.7 332.7 47.8 334.0 52.0 C335.0 55.2 336.0 58.6 337.0 64.7 C337.7 68.8 338.3 78.7 339.0 85.0 C339.9 93.5 340.8 108.5 341.7 108.5 C342.5 108.5 343.2 93.8 344.0 88.0 C345.2 78.9 346.4 71.4 347.6 64.7 C348.7 58.4 349.9 51.2 351.0 48.0 C353.0 42.4 355.0 38.6 357.0 37.0 C359.7 34.8 362.3 33.0 365.0 33.0 C367.3 33.0 369.7 34.5 372.0 35.0 C374.0 35.4 376.0 35.5 378.0 36.0 C380.0 36.5 382.0 37.8 384.0 39.0 C385.7 40.0 387.3 40.9 389.0 43.0 C390.3 44.6 391.7 49.6 393.0 53.0 C394.3 56.4 395.7 63.5 397.0 63.5 C398.2 63.5 399.3 57.9 400.5 55.0 C401.7 52.1 402.8 47.4 404.0 46.0 C405.3 44.4 406.7 43.3 408.0 43.0 C409.3 42.7 410.7 42.5 412.0 42.5 C413.3 42.5 414.7 43.0 416.0 43.5 C417.3 44.0 418.7 45.9 420.0 47.0 C421.3 48.1 422.7 50.0 424.0 50.0 C425.0 50.0 426.0 48.5 427.0 47.0 C428.0 45.5 429.0 40.0 430.0 38.0 C431.3 35.3 432.7 32.7 434.0 32.0 C436.0 31.0 438.0 30.8 440.0 30.3 C443.2 29.5 446.3 28.4 449.5 27.9 C452.7 27.4 455.8 26.8 459.0 26.7 C462.7 26.6 466.3 26.5 470.0 26.5 C473.3 26.5 476.7 26.7 480.0 27.0 C482.0 27.2 484.0 28.5 486.0 30.0 C487.3 31.0 488.7 33.1 490.0 35.0 C491.3 36.9 492.7 40.0 494.0 42.0 C495.0 43.5 496.0 46.0 497.0 46.0 C498.2 46.0 499.3 43.7 500.5 42.0 C501.7 40.3 502.8 36.7 504.0 35.0 C505.0 33.5 506.0 32.3 507.0 31.5 C508.7 30.1 510.3 28.9 512.0 28.5 C514.7 27.9 517.3 27.5 520.0 27.5 C522.0 27.5 524.0 27.7 526.0 27.8 C528.5 28.0 531.0 28.1 533.5 28.5 C535.0 28.7 536.5 29.7 538.0 30.5 C539.7 31.3 541.3 32.4 543.0 33.5 C544.3 34.4 545.7 35.7 547.0 36.5 C548.0 37.1 549.0 38.0 550.0 38.0 C551.0 38.0 552.0 37.5 553.0 37.0 C554.0 36.5 555.0 35.0 556.0 34.0 C557.3 32.7 558.7 30.8 560.0 30.0 C562.0 28.8 564.0 27.6 566.0 27.5 C574.0 27.1 582.0 27.3 590.0 27.0 C595.0 26.8 600.0 26.3 605.0 26.0 C611.7 25.6 618.3 25.1 625.0 25.0 C633.3 24.9 641.7 24.9 650.0 24.8 C658.3 24.7 666.7 24.6 675.0 24.5" stroke="#1e1ec0" stroke-dasharray="2.2 2.8"/>
</g>
<g stroke="#111" stroke-width="1.4"><line x1="26.7" y1="23.6" x2="26.7" y2="188.3"/><line x1="26" y1="187.75" x2="675.4" y2="187.75"/><line x1="24.6" y1="187.55" x2="28.8" y2="187.55"/><line x1="24.6" y1="173.96" x2="28.8" y2="173.96"/><line x1="24.6" y1="160.37" x2="28.8" y2="160.37"/><line x1="24.6" y1="146.78" x2="28.8" y2="146.78"/><line x1="24.6" y1="133.18" x2="28.8" y2="133.18"/><line x1="24.6" y1="119.59" x2="28.8" y2="119.59"/><line x1="24.6" y1="106.00" x2="28.8" y2="106.00"/><line x1="24.6" y1="92.41" x2="28.8" y2="92.41"/><line x1="24.6" y1="78.82" x2="28.8" y2="78.82"/><line x1="24.6" y1="65.23" x2="28.8" y2="65.23"/><line x1="24.6" y1="51.63" x2="28.8" y2="51.63"/><line x1="24.6" y1="38.04" x2="28.8" y2="38.04"/><line x1="24.6" y1="24.45" x2="28.8" y2="24.45"/><line x1="26.20" y1="185.6" x2="26.20" y2="189.9"/><line x1="66.75" y1="185.6" x2="66.75" y2="189.9"/><line x1="107.30" y1="185.6" x2="107.30" y2="189.9"/><line x1="147.85" y1="185.6" x2="147.85" y2="189.9"/><line x1="188.40" y1="185.6" x2="188.40" y2="189.9"/><line x1="228.95" y1="185.6" x2="228.95" y2="189.9"/><line x1="269.50" y1="185.6" x2="269.50" y2="189.9"/><line x1="310.05" y1="185.6" x2="310.05" y2="189.9"/><line x1="350.60" y1="185.6" x2="350.60" y2="189.9"/><line x1="391.15" y1="185.6" x2="391.15" y2="189.9"/><line x1="431.70" y1="185.6" x2="431.70" y2="189.9"/><line x1="472.25" y1="185.6" x2="472.25" y2="189.9"/><line x1="512.80" y1="185.6" x2="512.80" y2="189.9"/><line x1="553.35" y1="185.6" x2="553.35" y2="189.9"/><line x1="593.90" y1="185.6" x2="593.90" y2="189.9"/><line x1="634.45" y1="185.6" x2="634.45" y2="189.9"/><line x1="675.00" y1="185.6" x2="675.00" y2="189.9"/></g>
<line x1="73.0" y1="245.85" x2="105.0" y2="245.85" stroke="#cc3a48" stroke-width="1.8"/>
<line x1="167.0" y1="245.85" x2="199.0" y2="245.85" stroke="#3c36b0" stroke-width="1.8"/>
<line x1="260.9" y1="245.85" x2="292.9" y2="245.85" stroke="#cc3a48" stroke-width="1.8" stroke-dasharray="6.5 5"/>
<line x1="355.5" y1="245.85" x2="387.5" y2="245.85" stroke="#3c36b0" stroke-width="1.8" stroke-dasharray="6.5 5"/>
<line x1="450.0" y1="245.85" x2="482.0" y2="245.85" stroke="#cc3a48" stroke-width="1.8" stroke-dasharray="2.2 2.8"/>
<line x1="544.2" y1="245.85" x2="576.2" y2="245.85" stroke="#3c36b0" stroke-width="1.8" stroke-dasharray="2.2 2.8"/>
<g style="will-change:transform;text-rendering:geometricPrecision" font-family="&quot;Liberation Serif&quot;, serif" fill="#262626" stroke="#262626" stroke-width="0.6"><text transform="translate(22.90 28.00) scale(0.2500 0.2650)" font-size="34.80" text-anchor="end">100</text><text transform="translate(22.90 55.18) scale(0.2500 0.2650)" font-size="34.80" text-anchor="end">98</text><text transform="translate(22.90 82.37) scale(0.2500 0.2650)" font-size="34.80" text-anchor="end">96</text><text transform="translate(22.90 109.55) scale(0.2500 0.2650)" font-size="34.80" text-anchor="end">94</text><text transform="translate(22.90 136.73) scale(0.2500 0.2650)" font-size="34.80" text-anchor="end">92</text><text transform="translate(22.90 163.92) scale(0.2500 0.2650)" font-size="34.80" text-anchor="end">90</text><text transform="translate(22.90 191.10) scale(0.2500 0.2650)" font-size="34.80" text-anchor="end">88</text><text transform="translate(26.60 201.60) scale(0.2500 0.2500)" font-size="36.00" text-anchor="middle">420</text><text transform="translate(107.60 201.60) scale(0.2500 0.2500)" font-size="36.00" text-anchor="middle">440</text><text transform="translate(188.60 201.60) scale(0.2500 0.2500)" font-size="36.00" text-anchor="middle">460</text><text transform="translate(269.60 201.60) scale(0.2500 0.2500)" font-size="36.00" text-anchor="middle">480</text><text transform="translate(351.10 201.60) scale(0.2500 0.2500)" font-size="36.00" text-anchor="middle">500</text><text transform="translate(431.80 201.60) scale(0.2500 0.2500)" font-size="36.00" text-anchor="middle">520</text><text transform="translate(513.40 201.60) scale(0.2500 0.2500)" font-size="36.00" text-anchor="middle">540</text><text transform="translate(593.90 201.60) scale(0.2500 0.2500)" font-size="36.00" text-anchor="middle">560</text><text transform="translate(675.40 201.60) scale(0.2500 0.2500)" font-size="36.00" text-anchor="middle">580</text><text transform="translate(12.90 12.90) scale(0.2500 0.2500)" font-size="38.40">Reflectance (%)</text><text transform="translate(350.80 216.40) scale(0.2500 0.2575)" font-size="36.00" text-anchor="middle">Wavelength (nm)</text><text transform="translate(115.00 249.70) scale(0.2500 0.2700)" font-size="37.60">P-45deg</text><text transform="translate(209.40 249.70) scale(0.2500 0.2700)" font-size="37.60">S-45deg</text><text transform="translate(303.40 249.70) scale(0.2500 0.2700)" font-size="37.60">P-42deg</text><text transform="translate(397.60 249.70) scale(0.2500 0.2700)" font-size="37.60">S-42deg</text><text transform="translate(491.60 249.70) scale(0.2500 0.2700)" font-size="37.60">P-48deg</text><text transform="translate(586.00 249.70) scale(0.2500 0.2700)" font-size="37.60">S-48deg</text></g>
</svg></body></html>
